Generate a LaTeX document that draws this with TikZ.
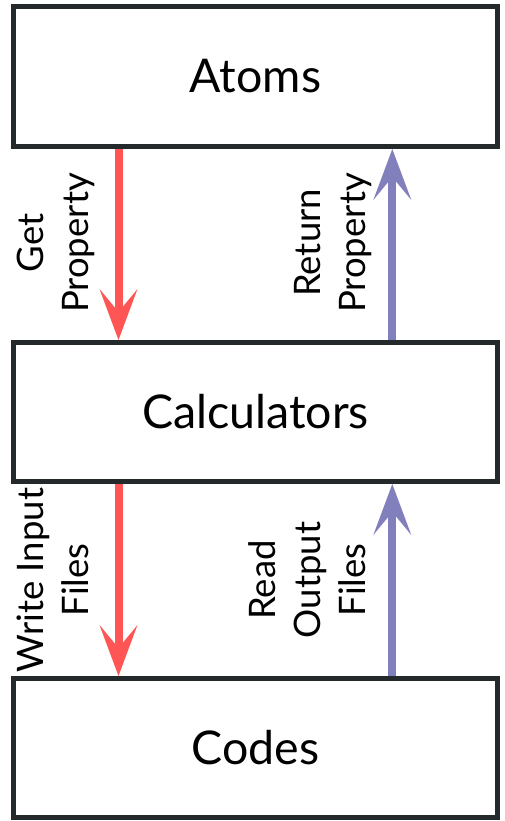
\documentclass[tikz,border=0pt]{standalone}
\usepackage{fontspec}
\setmainfont{Lato}
\usetikzlibrary{arrows.meta}
\definecolor{boxline}{HTML}{242A2C}
\definecolor{redc}{HTML}{FF5555}
\definecolor{purc}{HTML}{8280BC}
\begin{document}
\begin{tikzpicture}[x=1pt,y=-1pt,
  box/.style={draw=boxline,line width=5pt,minimum width=484pt,minimum height=139pt,inner sep=0pt,font=\fontsize{46.5}{55}\selectfont},
  downarrow/.style={draw=redc,line width=8pt,-{Stealth[length=51pt,width=38pt,inset=23pt,line width=0pt]}},
  uparrow/.style={draw=purc,line width=8pt,-{Stealth[length=51pt,width=38pt,inset=23pt,line width=0pt]}},
  lbl/.style={rotate=90,align=center,font=\fontsize{36.5}{45}\selectfont,inner sep=0pt}]
\useasboundingbox (0,0) rectangle (504,821);
\node[box,minimum height=140pt] (atoms) at (255.5,76.5) {Atoms};
\node[box] (calc) at (255.5,412) {Calculators};
\node[box] (codes) at (255.5,748) {Codes};
\draw[downarrow] ([xshift=107.5pt]atoms.south west) -- ([xshift=107.5pt]calc.north west);
\draw[uparrow] ([xshift=381.3pt]calc.north west) -- ([xshift=381.3pt]atoms.south west);
\draw[downarrow] ([xshift=107.5pt]calc.south west) -- ([xshift=107.5pt]codes.north west);
\draw[uparrow] ([xshift=381.3pt]codes.north west) -- ([xshift=381.3pt]calc.south west);
\node[lbl] (l1) at (56,243) {Get\\Property};
\node[lbl] (l2) at (333,243) {Return\\Property};
\node[lbl] (l3) at (53,580) {Write Input\\Files};
\node[lbl] (l4) at (307.5,580) {Read\\Output\\Files};
\end{tikzpicture}
\end{document}
